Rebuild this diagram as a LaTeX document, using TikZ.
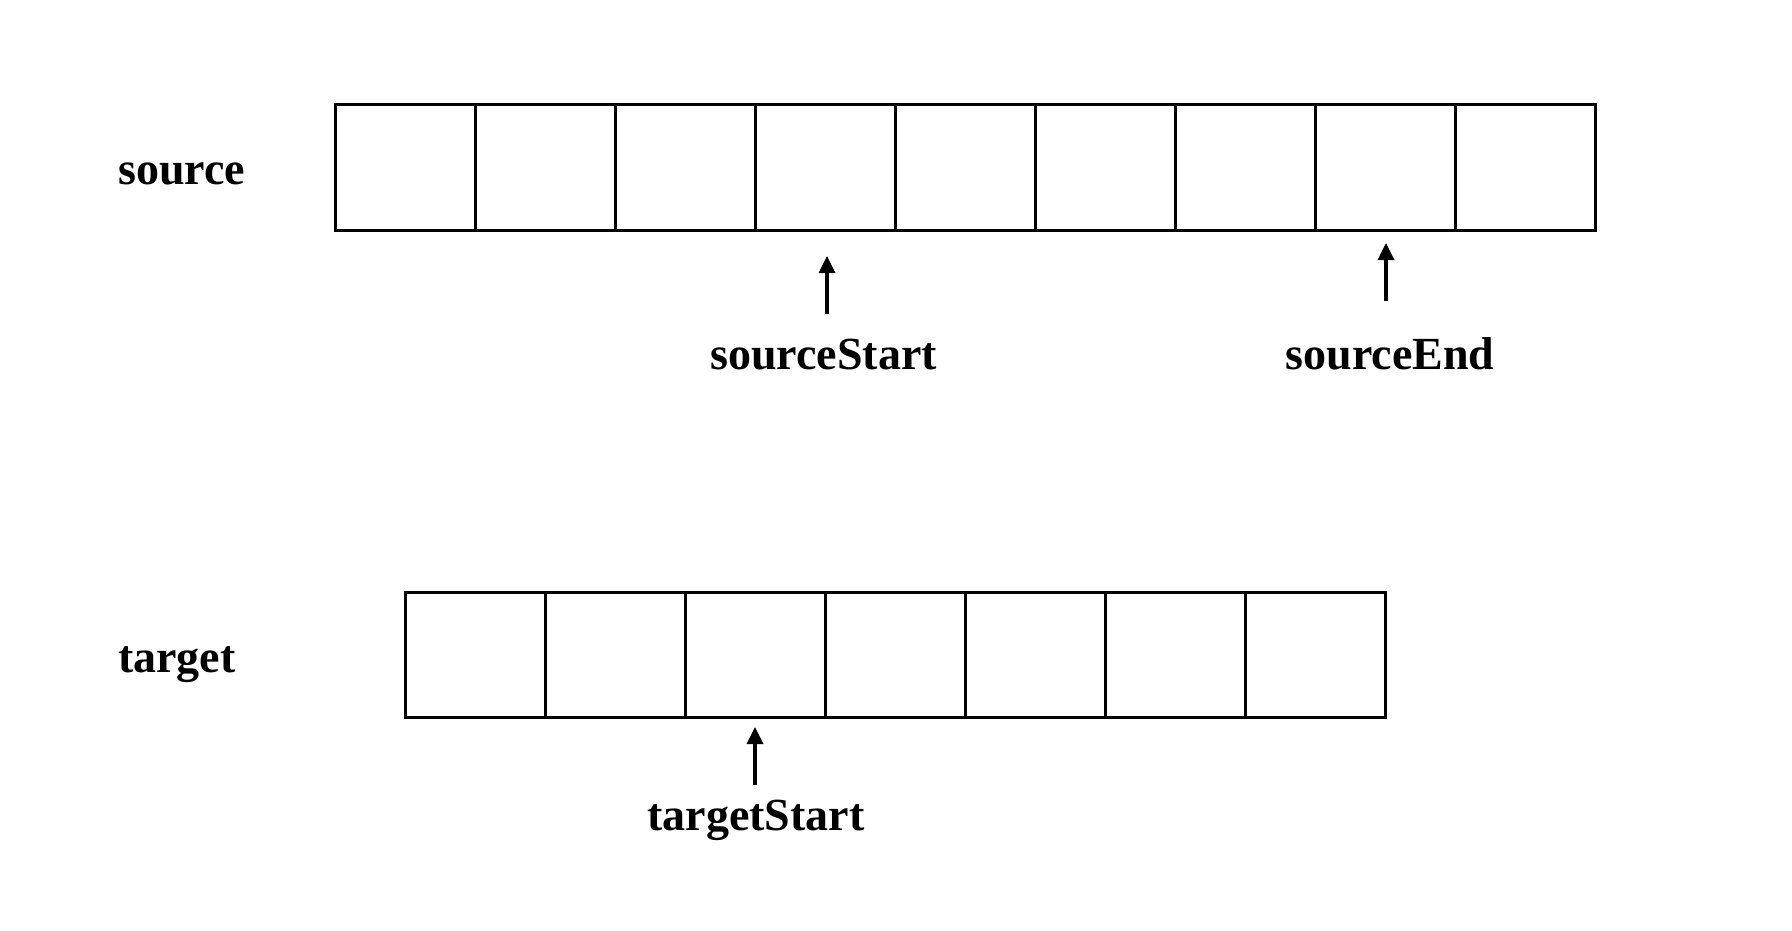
\documentclass[tikz,border=0pt]{standalone}
\usepackage{fontspec}
\setmainfont{Liberation Serif}
\usetikzlibrary{arrows.meta}
\begin{document}
\begin{tikzpicture}[x=1pt,y=-1pt,
  cell/.style={draw, line width=3pt, minimum width=140.1pt, inner sep=0pt, outer sep=0pt},
  srccell/.style={cell, minimum height=126pt},
  tgtcell/.style={cell, minimum height=125pt},
  lbl/.style={font=\fontsize{46}{50}\selectfont\bfseries, inner sep=0pt},
  ptr/.style={line width=3.4pt, -{Triangle[width=16pt,length=17pt]}}]
\useasboundingbox (0,0) rectangle (1792,930);
\fill[white] (0,0) rectangle (1792,930);
% source array
\foreach \i in {0,...,8} {
  \node[srccell] (s\i) at ({335+140.1*(\i+0.5)},167) {};
}
% target array
\foreach \i in {0,...,6} {
  \node[tgtcell] (t\i) at ({405+140.1*(\i+0.5)},655.2) {};
}
\node[lbl, anchor=base west] (srclbl) at (118,184) {source};
\node[lbl, anchor=base west] (tgtlbl) at (118,672) {target};
\node[lbl, anchor=base] (ss) at (823.5,369) {sourceStart};
\node[lbl, anchor=base] (se) at (1390,369) {sourceEnd};
\node[lbl, anchor=base] (ts) at (756,830) {targetStart};
\coordinate (ssA) at (827,314);
\coordinate (ssB) at (827,256);
\coordinate (seA) at (1386,301);
\coordinate (seB) at (1386,243);
\coordinate (tsA) at (755,785);
\coordinate (tsB) at (755,727);
\draw[ptr] (ssA) -- (ssB);
\draw[ptr] (seA) -- (seB);
\draw[ptr] (tsA) -- (tsB);
\end{tikzpicture}
\end{document}
